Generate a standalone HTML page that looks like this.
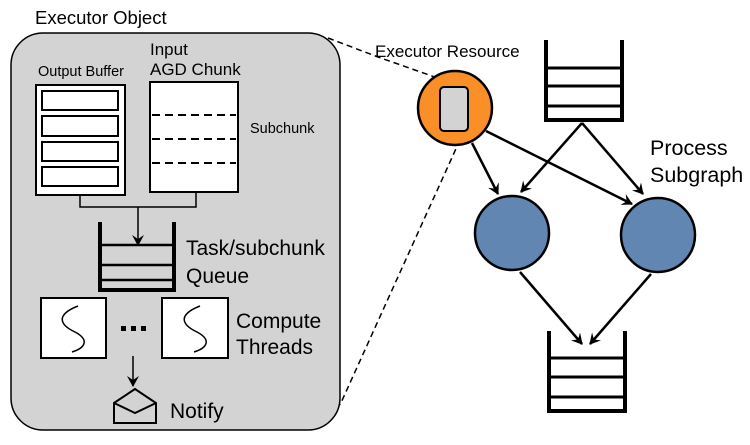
<!DOCTYPE html>
<html><head><style>body{margin:0;background:#fff}svg text{font-family:"Liberation Sans",Arial,sans-serif;fill:#000}</style></head>
<body>
<svg width="750" height="440" viewBox="0 0 750 440" xmlns="http://www.w3.org/2000/svg">
<defs><marker id="a" markerWidth="12" markerHeight="12" refX="10" refY="6" orient="auto" markerUnits="userSpaceOnUse"><path d="M0,0 L11,6 L0,12 L4,6z" fill="#000"/></marker></defs>
<text x="35" y="24" font-size="18.5">Executor Object</text>
<rect x="11" y="33" width="329" height="397" rx="32" fill="#d3d3d3" stroke="#000" stroke-width="1.5"/>
<text x="38" y="76" font-size="14.5">Output Buffer</text>
<text x="150" y="55" font-size="17">Input</text>
<text x="150" y="75" font-size="17">AGD Chunk</text>
<rect x="36" y="85" width="89" height="110" fill="#fff" stroke="#000" stroke-width="2"/>
<g fill="#fff" stroke="#000" stroke-width="2"><rect x="42" y="91" width="76" height="19"/><rect x="42" y="116" width="76" height="20"/><rect x="42" y="142" width="76" height="19"/><rect x="42" y="167" width="76" height="19"/></g>
<rect x="150" y="82" width="88" height="110" fill="#fff" stroke="#000" stroke-width="2"/>
<g stroke="#000" stroke-width="2" stroke-dasharray="8,5"><line x1="152" y1="115" x2="236" y2="115"/><line x1="152" y1="139" x2="236" y2="139"/><line x1="152" y1="163" x2="236" y2="163"/></g>
<text x="250" y="133" font-size="14.5">Subchunk</text>
<polyline points="80,195 80,207 196,207 196,192" fill="none" stroke="#000" stroke-width="1.5"/>
<line x1="138" y1="207" x2="138" y2="245" stroke="#000" stroke-width="1.5" marker-end="url(#a)"/>
<g stroke="#000" fill="none"><polyline points="100,222 100,290 174,290 174,222" stroke-width="4"/><line x1="100" y1="245" x2="174" y2="245" stroke-width="2.5"/><line x1="100" y1="265" x2="174" y2="265" stroke-width="2.5"/><line x1="100" y1="280" x2="174" y2="280" stroke-width="2.5"/></g>
<text x="186" y="255" font-size="21">Task/subchunk</text>
<text x="186" y="283" font-size="21">Queue</text>
<rect x="41" y="298" width="65" height="60" fill="#fff" stroke="#000" stroke-width="2"/>
<rect x="162" y="298" width="66" height="60" fill="#fff" stroke="#000" stroke-width="2"/>
<path d="M78,306 C55,315 60,325 75,332 C90,340 85,348 72,352" fill="none" stroke="#000" stroke-width="1.5"/>
<path d="M200,306 C177,315 182,325 197,332 C212,340 207,348 194,352" fill="none" stroke="#000" stroke-width="1.5"/>
<g fill="#000"><rect x="121" y="326" width="5" height="5"/><rect x="131" y="326" width="5" height="5"/><rect x="141" y="326" width="5" height="5"/></g>
<text x="236" y="328" font-size="21">Compute</text>
<text x="236" y="354" font-size="21">Threads</text>
<line x1="133" y1="356" x2="133" y2="386" stroke="#000" stroke-width="1.5" marker-end="url(#a)"/>
<g fill="none" stroke="#000" stroke-width="2"><path d="M114,403 L135,389 L156,403 L156,423 L114,423 Z"/><path d="M114,403 L135,413 L156,403"/></g>
<text x="170" y="418" font-size="21">Notify</text>
<g stroke="#000" stroke-width="1.5" stroke-dasharray="6,4" fill="none"><polyline points="328,38 378,57 466,88"/><line x1="464" y1="131" x2="340" y2="405"/></g>
<text x="375" y="57" font-size="17">Executor Resource</text>
<circle cx="455" cy="108" r="37" fill="#f98f26" stroke="#000" stroke-width="2.5"/>
<rect x="440" y="87" width="28" height="44" rx="4" fill="#d3d3d3" stroke="#000" stroke-width="2"/>
<g stroke="#000" fill="none"><polyline points="546,40 546,120 622,120 622,40" stroke-width="4"/><line x1="546" y1="68" x2="622" y2="68" stroke-width="3"/><line x1="546" y1="86" x2="622" y2="86" stroke-width="3"/><line x1="546" y1="106" x2="622" y2="106" stroke-width="3"/></g>
<g stroke="#000" fill="none"><polyline points="549,331 549,411 625,411 625,331" stroke-width="4"/><line x1="549" y1="358" x2="625" y2="358" stroke-width="3"/><line x1="549" y1="377" x2="625" y2="377" stroke-width="3"/><line x1="549" y1="397" x2="625" y2="397" stroke-width="3"/></g>
<circle cx="512" cy="233" r="37" fill="#6286b2" stroke="#000" stroke-width="2.5"/>
<circle cx="658" cy="235" r="37" fill="#6286b2" stroke="#000" stroke-width="2.5"/>
<g stroke="#000" stroke-width="2.5" marker-end="url(#a)"><line x1="472" y1="143" x2="498" y2="194"/><line x1="486" y1="131" x2="632" y2="204"/><line x1="582" y1="123" x2="521" y2="192"/><line x1="582" y1="123" x2="643" y2="194"/><line x1="520" y1="272" x2="582" y2="344"/><line x1="651" y1="274" x2="590" y2="344"/></g>
<text x="650" y="155" font-size="21.5">Process</text>
<text x="650" y="182" font-size="21.5">Subgraph</text>
</svg>
</body></html>
